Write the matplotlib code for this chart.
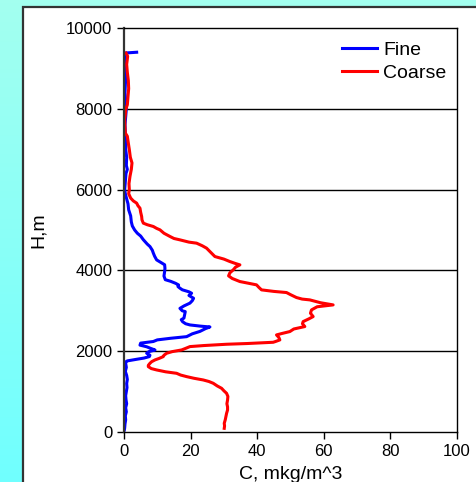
import numpy as np
import matplotlib.pyplot as plt
from matplotlib.patches import Rectangle

plt.rcParams['font.family'] = ['Liberation Sans', 'DejaVu Sans']

# Fine fraction profile: height (m) and concentration
fine_h = [9400, 9380, 9200, 9000, 8800, 8600, 8400, 8200, 8000, 7800, 7600, 7400, 7200, 7000,
          6800, 6600, 6500, 6400, 6200, 6000, 5900, 5800, 5650, 5500, 5350, 5200, 5100, 5000,
          4920, 4850, 4760, 4650, 4590, 4500, 4430, 4350, 4260, 4200, 4140, 4050, 3970, 3860,
          3770, 3730, 3680, 3640, 3600, 3560, 3520, 3470, 3435, 3380, 3310, 3250, 3190, 3120,
          3060, 3000, 2980, 2900, 2820, 2780, 2730, 2680, 2650, 2620, 2600, 2560, 2490, 2430,
          2360, 2320, 2280, 2240, 2200, 2150, 2110, 2070, 2030, 1990, 1950, 1900, 1866, 1830,
          1800, 1760, 1740, 1700, 1600, 1500, 1400, 1300, 1200, 1100, 1000, 900, 800, 700,
          600, 500, 400, 300, 200, 100, 50]
fine_c = [3.8, 0.2, 0.3, 0.5, 0.6, 0.4, 0.3, 0.5, 0.7, 0.5, 0.3, 0.4, 0.6, 0.5,
          0.8, 0.7, 1.0, 0.6, 0.4, 0.2, 0.4, 0.7, 1.2, 1.4, 2.0, 2.2, 2.5, 3.2,
          4.0, 5.0, 5.8, 7.0, 7.8, 8.5, 8.8, 9.2, 9.8, 11.0, 12.2, 12.3, 12.2, 12.0,
          12.4, 14.0, 15.5, 16.4, 16.2, 16.8, 17.5, 19.5, 20.3, 19.5, 20.9, 20.5, 19.8, 18.0,
          16.8, 17.5, 18.4, 18.2, 18.0, 17.2, 17.6, 18.5, 19.8, 23.0, 25.8, 24.5, 22.8, 20.5,
          18.8, 14.0, 10.0, 8.8, 5.0, 4.8, 6.8, 8.0, 9.3, 7.5, 6.8, 7.8, 7.6, 6.0,
          3.8, 1.0, 0.6, 0.5, 0.7, 0.4, 0.8, 1.0, 0.8, 0.9, 0.7, 0.5, 0.6, 0.8,
          0.5, 0.7, 0.4, 0.5, 0.3, 0.2, 0.1]

# Coarse fraction profile
coarse_h = [9380, 9300, 9100, 8900, 8700, 8500, 8300, 8100, 7980, 7850, 7730, 7550, 7400, 7320,
            7150, 6990, 6800, 6660, 6500, 6330, 6150, 6000, 5900, 5790, 5720, 5665, 5600, 5540,
            5440, 5335, 5250, 5170, 5130, 5087, 5040, 5004, 4920, 4840, 4790, 4756, 4700, 4674,
            4610, 4550, 4450, 4343, 4280, 4219, 4170, 4137, 4080, 4013, 3940, 3865, 3800, 3724,
            3680, 3642, 3580, 3518, 3480, 3452, 3400, 3328, 3290, 3270, 3200, 3146, 3100, 3022,
            2940, 2857, 2800, 2733, 2680, 2610, 2550, 2486, 2440, 2403, 2340, 2279, 2240, 2221,
            2190, 2172, 2140, 2114, 2070, 2031, 1990, 1949, 1900, 1866, 1820, 1784, 1740, 1701,
            1650, 1618, 1570, 1536, 1490, 1453, 1410, 1371, 1330, 1288, 1250, 1206, 1140, 1082,
            1020, 958, 880, 793, 700, 620, 545, 460, 380, 300, 215, 150, 91]
coarse_c = [0.6, 1.1, 0.8, 1.0, 1.3, 1.4, 1.2, 1.0, 0.5, 0.4, 0.2, 0.3, 0.4, 1.0,
            1.3, 1.6, 1.9, 2.4, 2.2, 1.8, 1.5, 1.6, 1.4, 2.0, 2.8, 3.8, 4.2, 4.8,
            5.0, 5.3, 5.4, 5.8, 7.0, 8.8, 9.8, 10.8, 12.0, 13.8, 15.0, 16.8, 19.5, 21.8,
            23.5, 24.8, 26.0, 27.3, 30.0, 31.8, 33.5, 34.8, 33.5, 32.8, 31.8, 31.4, 32.5, 34.8,
            37.5, 39.8, 40.5, 41.3, 45.0, 48.8, 50.0, 51.8, 53.5, 55.8, 59.0, 62.8, 58.0, 56.3,
            56.0, 56.8, 55.5, 53.8, 53.6, 54.3, 51.0, 49.8, 47.5, 45.8, 46.5, 46.8, 45.5, 44.8,
            37.0, 30.8, 24.0, 19.8, 18.5, 17.3, 14.5, 12.8, 12.0, 11.8, 10.5, 9.3, 8.3, 7.8,
            7.3, 7.3, 8.2, 9.8, 12.5, 15.8, 17.0, 18.8, 21.0, 23.8, 25.5, 26.8, 28.0, 29.3,
            30.0, 30.8, 31.2, 31.1, 30.9, 31.1, 31.1, 30.8, 30.6, 30.4, 30.1, 30.2, 30.1]

W, H = 477, 482
fig = plt.figure(figsize=(W / 100, H / 100), dpi=100)

# cyan gradient background
bg = fig.add_axes([0, 0, 1, 1])
top_col = np.array([0.64, 1.0, 0.94])
bot_col = np.array([0.44, 1.0, 1.0])
t = np.linspace(0, 1, 200)[:, None, None]
grad = top_col * (1 - t) + bot_col * t
bg.imshow(np.repeat(grad, 2, axis=1), aspect='auto', extent=[0, 1, 0, 1])
bg.set_xlim(0, 1)
bg.set_ylim(0, 1)
bg.axis('off')
bg.add_patch(Rectangle((22.5 / W, -0.1), 1.2, 1.1 - 6.5 / H, facecolor='white',
                       edgecolor='#333333', linewidth=1.6, transform=bg.transAxes))

ax = fig.add_axes([124 / W, 1 - 432 / H, (457 - 124) / W, (432 - 28) / H])
ax.plot(fine_c, fine_h, color='#0000ff', linewidth=2.2, label='Fine')
ax.plot(coarse_c, coarse_h, color='#ff0000', linewidth=2.2, label='Coarse')

ax.set_xlim(0, 100)
ax.set_ylim(0, 10000)
ax.set_xticks(range(0, 101, 20))
ax.set_yticks(range(0, 10001, 2000))
for yv in range(2000, 10000, 2000):
    ax.axhline(yv, color='black', linewidth=1, zorder=0)
ax.tick_params(labelsize=12, length=5, width=1, colors='black')
ax.spines['left'].set_color('#333333')
ax.spines['left'].set_linewidth(1.6)
for s in ['top', 'right', 'bottom']:
    ax.spines[s].set_linewidth(1)
ax.set_ylabel('H,m', fontsize=14, labelpad=14)
ax.set_xlabel('C, mkg/m^3', fontsize=14, labelpad=5)

ax.legend(loc='upper right', bbox_to_anchor=(1.02, 1.01), frameon=False, fontsize=14,
          handlelength=1.8, handletextpad=0.3, labelspacing=0.25)

fig.savefig('out.png', dpi=100)
